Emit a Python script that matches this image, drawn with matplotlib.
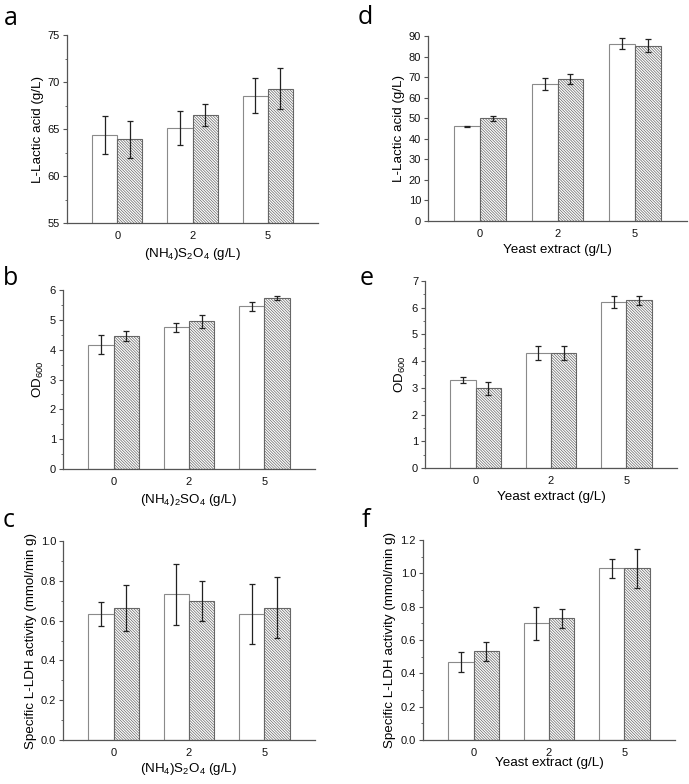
import numpy as np
import matplotlib
matplotlib.use('Agg')
import matplotlib.pyplot as plt
from matplotlib.ticker import MultipleLocator

plt.rcParams['font.family'] = ['Liberation Sans', 'DejaVu Sans']
plt.rcParams['mathtext.fontset'] = 'custom'
plt.rcParams['mathtext.rm'] = 'Liberation Sans'
plt.rcParams['mathtext.it'] = 'Liberation Sans:italic'
plt.rcParams['hatch.linewidth'] = 0.5

doses = ['0', '2', '5']

# (NH4)S2O4 series - open bars / hatched bars
lactic_nh4_open = [64.35, 65.1, 68.55]
lactic_nh4_open_err = [2.05, 1.8, 1.85]
lactic_nh4_hatch = [63.9, 66.5, 69.3]
lactic_nh4_hatch_err = [2.0, 1.18, 2.15]

od_nh4_open = [4.16, 4.75, 5.45]
od_nh4_open_err = [0.32, 0.16, 0.16]
od_nh4_hatch = [4.45, 4.95, 5.72]
od_nh4_hatch_err = [0.16, 0.22, 0.07]

ldh_nh4_open = [0.633, 0.732, 0.633]
ldh_nh4_open_err = [0.058, 0.154, 0.153]
ldh_nh4_hatch = [0.665, 0.70, 0.665]
ldh_nh4_hatch_err = [0.116, 0.10, 0.154]

# yeast extract series
lactic_ye_open = [46.0, 66.85, 86.3]
lactic_ye_open_err = [0.4, 2.9, 2.8]
lactic_ye_hatch = [49.9, 69.1, 85.3]
lactic_ye_hatch_err = [1.3, 2.6, 3.2]

od_ye_open = [3.29, 4.30, 6.20]
od_ye_open_err = [0.1, 0.27, 0.22]
od_ye_hatch = [2.99, 4.30, 6.28]
od_ye_hatch_err = [0.24, 0.27, 0.17]

ldh_ye_open = [0.467, 0.70, 1.03]
ldh_ye_open_err = [0.059, 0.10, 0.059]
ldh_ye_hatch = [0.533, 0.731, 1.03]
ldh_ye_hatch_err = [0.058, 0.058, 0.115]

W, H = 689, 784
fig = plt.figure(figsize=(W / 100, H / 100), dpi=100)


def make_ax(left, right, top, bottom):
    return fig.add_axes([left / W, 1 - bottom / H, (right - left) / W, (bottom - top) / H])


lab_nh4s = r'(NH$_4$)S$_2$O$_4$ (g/L)'
lab_nh42 = r'(NH$_4$)$_2$SO$_4$ (g/L)'
lab_ye = 'Yeast extract (g/L)'
lab_lac = 'L-Lactic acid (g/L)'
lab_od = r'OD$_{600}$'
lab_ldh = 'Specific L-LDH activity (mmol/min g)'

panels = [
    # letter, box, letter pos, open, open err, hatch, hatch err, ylim, major, minor, fmt, xlabel, ylabel, xlabelpad
    ('a', (67, 318, 35, 223), (4, 25), lactic_nh4_open, lactic_nh4_open_err, lactic_nh4_hatch,
     lactic_nh4_hatch_err, (55, 75), 5, 2.5, '%d', lab_nh4s, lab_lac, 3),
    ('d', (428, 687, 36, 221), (358, 24), lactic_ye_open, lactic_ye_open_err, lactic_ye_hatch,
     lactic_ye_hatch_err, (0, 90), 10, None, '%d', lab_ye, lab_lac, 3),
    ('b', (63, 315, 290, 469), (3, 285), od_nh4_open, od_nh4_open_err, od_nh4_hatch,
     od_nh4_hatch_err, (0, 6), 1, 0.5, '%d', lab_nh42, lab_od, 3),
    ('e', (425, 677, 281, 468), (360, 285), od_ye_open, od_ye_open_err, od_ye_hatch,
     od_ye_hatch_err, (0, 7), 1, 0.5, '%d', lab_ye, lab_od, 3),
    ('c', (63, 315, 541, 740), (3, 527), ldh_nh4_open, ldh_nh4_open_err, ldh_nh4_hatch,
     ldh_nh4_hatch_err, (0, 1.0), 0.2, 0.1, '%.1f', lab_nh4s, lab_ldh, 2),
    ('f', (423, 675, 540, 740), (362, 527), ldh_ye_open, ldh_ye_open_err, ldh_ye_hatch,
     ldh_ye_hatch_err, (0, 1.2), 0.2, 0.1, '%.1f', lab_ye, lab_ldh, -1),
]

x = np.arange(len(doses))
bw = 0.333
axis_col = '#555555'

for (letter, box, lpos, y1, e1, y2, e2, ylim, major, minor, fmt,
     xlab, ylab, lpad) in panels:
    ax = make_ax(*box)
    ax.bar(x - bw / 2, y1, bw, bottom=0, color='white', edgecolor='#8a8a8a', linewidth=0.8, zorder=2)
    ax.bar(x + bw / 2, y2, bw, bottom=0, color='white', edgecolor='#666666', linewidth=0.8,
           hatch='\\' * 12, zorder=2)
    ax.errorbar(x - bw / 2, y1, yerr=e1, fmt='none', ecolor='#222222', elinewidth=0.9,
                capsize=2, capthick=0.9, zorder=3)
    ax.errorbar(x + bw / 2, y2, yerr=e2, fmt='none', ecolor='#222222', elinewidth=0.9,
                capsize=2, capthick=0.9, zorder=3)
    ax.set_xlim(-0.67, 2.67)
    ax.set_ylim(*ylim)
    ax.set_xticks(x)
    ax.set_xticklabels(doses)
    ax.yaxis.set_major_locator(MultipleLocator(major))
    if minor:
        ax.yaxis.set_minor_locator(MultipleLocator(minor))
    ax.yaxis.set_major_formatter(matplotlib.ticker.FormatStrFormatter(fmt))
    for s in ['top', 'right']:
        ax.spines[s].set_visible(False)
    for s in ['left', 'bottom']:
        ax.spines[s].set_color(axis_col)
        ax.spines[s].set_linewidth(0.9)
    ax.tick_params(axis='x', length=0, pad=6, labelsize=8, colors='#111111')
    ax.tick_params(axis='y', which='major', length=3, width=0.8, pad=2, labelsize=8,
                   color=axis_col, labelcolor='#111111')
    ax.tick_params(axis='y', which='minor', length=1.8, width=0.6, color=axis_col)
    ax.set_xlabel(xlab, fontsize=9.6, labelpad=lpad)
    ax.set_ylabel(ylab, fontsize=9.6, labelpad=3)
    fig.text(lpos[0] / W, 1 - lpos[1] / H, letter, fontsize=18, family=['Open Sans', 'DejaVu Sans'],
             ha='left', va='baseline')

fig.savefig('out.png', dpi=100)
